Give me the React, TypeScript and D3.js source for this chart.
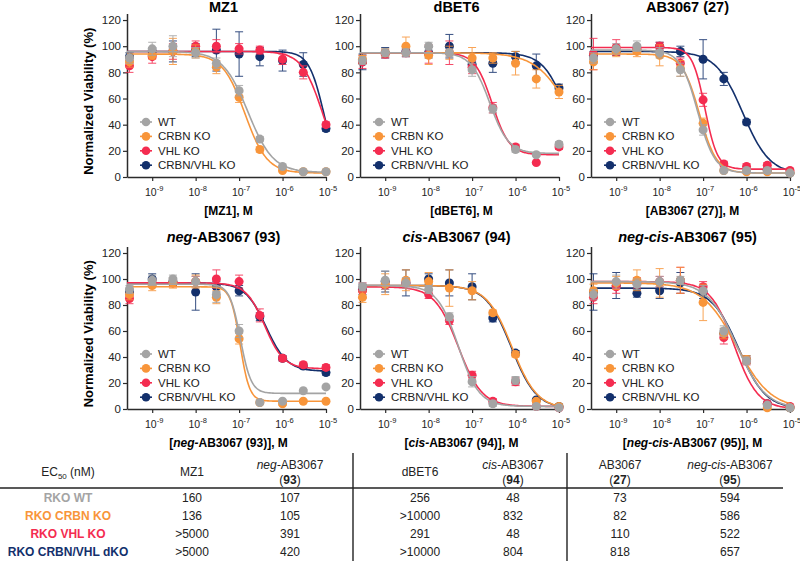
import { useEffect, useRef } from "react";
import * as d3 from "d3";

// concentrations (M) shared by all six dose-response panels
const concentrations = [3e-10, 1e-9, 3e-9, 1e-8, 3e-8, 1e-7, 3e-7, 1e-6, 3e-6, 1e-5];
const lineNames = ["WT", "CRBN KO", "VHL KO", "CRBN/VHL KO"];
const lineColors = ["#a4a4a4", "#f8953a", "#f42c50", "#13306c"];
const yTickValues = [0, 20, 40, 60, 80, 100, 120];
const xTickExponents = [-9, -8, -7, -6, -5];

// MZ1
const mz1WT = [91, 98, 100, 95, 87, 66, 29, 8, 4, 4];
const mz1CRBN = [88, 93, 96, 96, 84, 61, 21, 5, 4, 4];
const mz1VHL = [85, 92, 96, 100, 100, 98, 97, 90, 80, 40];
const mz1DKO = [92, 96, 96, 97, 97, 94, 92, 89, 86, 37];
const mz1WTErr = [4, 5, 8, 4, 4, 4, 2, 1, 1, 1];
const mz1CRBNErr = [4, 3, 10, 5, 5, 4, 2, 1, 1, 1];
const mz1VHLErr = [5, 5, 6, 4, 5, 4, 3, 4, 5, 2];
const mz1DKOErr = [3, 3, 8, 5, 16, 17, 7, 8, 9, 2];
// fit parameters: [top, bottom, EC50, hill]
const mz1Fits = [[96, 3.5, 1.6e-7, 1.5], [94, 3, 1.36e-7, 1.7], [96, 0, 8.5e-6, 1.8], [96, 0, 9e-6, 2.5]];

// dBET6
const dbetWT = [89, 95, 95, 100, 95, 82, 52, 21, 17, 25];
const dbetCRBN = [90, 95, 100, 93, 95, 91, 91, 87, 75, 65];
const dbetVHL = [88, 94, 95, 94, 95, 84, 53, 23, 11, 23];
const dbetDKO = [88, 95, 96, 95, 100, 86, 87, 92, 85, 68];
const dbetWTErr = [3, 3, 3, 3, 3, 5, 3, 2, 1, 2];
const dbetCRBNErr = [3, 3, 7, 7, 5, 8, 4, 9, 7, 5];
const dbetVHLErr = [5, 3, 3, 7, 9, 5, 4, 2, 1, 2];
const dbetDKOErr = [6, 4, 4, 4, 9, 4, 7, 4, 9, 3];
const dbetFits = [[95, 18, 2.56e-7, 2], [95, 0, 2e-5, 1.1], [95, 17, 2.9e-7, 2.2], [95, 0, 1.6e-5, 1.6]];

// AB3067 (27)
const abWT = [91, 98, 100, 95, 82, 36, 5, 5, 5, 3];
const abCRBN = [88, 96, 96, 93, 83, 41, 5, 4, 4, 3];
const abVHL = [94, 99, 98, 100, 87, 59, 10, 8, 9, 5];
const abDKO = [93, 96, 97, 100, 96, 90, 75, 42, 5, 3];
const abWTErr = [4, 4, 4, 4, 5, 4, 1, 1, 1, 1];
const abCRBNErr = [6, 4, 4, 8, 6, 4, 1, 1, 1, 1];
const abVHLErr = [12, 6, 3, 3, 4, 5, 2, 2, 2, 1];
const abDKOErr = [3, 3, 3, 3, 4, 15, 5, 2, 2, 1];
const abFits = [[97, 3, 7.5e-8, 2.2], [94, 3, 8.2e-8, 2.2], [99, 6, 1.1e-7, 3], [96, 2, 8.2e-7, 1.4]];

// neg-AB3067 (93)
const negWT = [92, 99, 100, 98, 88, 60, 5, 6, 14, 17];
const negCRBN = [88, 95, 97, 98, 86, 54, 5, 4, 6, 6];
const negVHL = [85, 97, 97, 98, 100, 98, 72, 39, 34, 32];
const negDKO = [90, 100, 98, 90, 94, 91, 71, 39, 33, 28];
const negWTErr = [3, 4, 3, 4, 6, 5, 1, 1, 1, 1];
const negCRBNErr = [4, 4, 4, 5, 5, 4, 1, 1, 1, 1];
const negVHLErr = [4, 3, 3, 4, 7, 5, 5, 2, 2, 2];
const negDKOErr = [3, 4, 3, 14, 4, 4, 3, 2, 2, 2];
const negFits = [[96, 12, 1.07e-7, 3.5], [94, 6, 1.05e-7, 4], [97, 31, 3.9e-7, 2], [97, 29, 4.2e-7, 1.8]];

// cis-AB3067 (94)
const cisWT = [94, 99, 97, 92, 71, 21, 4, 22, 2, 1];
const cisCRBN = [86, 96, 99, 98, 93, 91, 74, 42, 6, 2];
const cisVHL = [91, 95, 97, 88, 68, 26, 6, 21, 2, 1];
const cisDKO = [92, 98, 97, 100, 97, 94, 70, 43, 7, 2];
const cisWTErr = [3, 7, 4, 3, 3, 4, 2, 3, 1, 1];
const cisCRBNErr = [4, 8, 8, 7, 14, 7, 2, 2, 1, 1];
const cisVHLErr = [6, 3, 3, 3, 3, 3, 2, 3, 1, 1];
const cisDKOErr = [4, 8, 10, 4, 10, 10, 3, 2, 1, 1];
const cisFits = [[95, 2, 4.8e-8, 1.8], [95, 0, 8.3e-7, 1.5], [94, 2, 4.8e-8, 1.6], [95, 0, 8e-7, 1.5]];

// neg-cis-AB3067 (95)
const negcisWT = [88, 98, 96, 98, 99, 91, 60, 37, 3, 1];
const negcisCRBN = [91, 97, 99, 97, 99, 82, 58, 38, 1, 1];
const negcisVHL = [86, 94, 97, 98, 99, 94, 55, 37, 4, 2];
const negcisDKO = [90, 95, 89, 91, 97, 90, 58, 38, 4, 1];
const negcisWTErr = [4, 5, 4, 4, 3, 4, 4, 3, 1, 1];
const negcisCRBNErr = [5, 5, 8, 11, 10, 14, 4, 3, 1, 1];
const negcisVHLErr = [5, 5, 4, 4, 10, 4, 5, 3, 1, 1];
const negcisDKOErr = [14, 10, 3, 6, 8, 5, 4, 3, 1, 1];
const negcisFits = [[98, 0, 5.9e-7, 1.3], [97, 0, 5.9e-7, 1.1], [98, 0, 5.2e-7, 1.6], [93, 0, 6.6e-7, 1.4]];

// EC50 table
const rowLabels = ["RKO WT", "RKO CRBN KO", "RKO VHL KO", "RKO CRBN/VHL dKO"];
const ec50MZ1 = ["160", "136", ">5000", ">5000"];
const ec50Neg = ["107", "105", "391", "420"];
const ec50DBET = ["256", ">10000", "291", ">10000"];
const ec50Cis = ["48", "832", "48", "804"];
const ec50AB = ["73", "82", "110", "818"];
const ec50NegCis = ["594", "586", "522", "657"];

const panels = [
  { row: 0, col: 0, prefix: "", name: "MZ1", values: [mz1WT, mz1CRBN, mz1VHL, mz1DKO], errors: [mz1WTErr, mz1CRBNErr, mz1VHLErr, mz1DKOErr], fits: mz1Fits },
  { row: 0, col: 1, prefix: "", name: "dBET6", values: [dbetWT, dbetCRBN, dbetVHL, dbetDKO], errors: [dbetWTErr, dbetCRBNErr, dbetVHLErr, dbetDKOErr], fits: dbetFits },
  { row: 0, col: 2, prefix: "", name: "AB3067 (27)", values: [abWT, abCRBN, abVHL, abDKO], errors: [abWTErr, abCRBNErr, abVHLErr, abDKOErr], fits: abFits },
  { row: 1, col: 0, prefix: "neg-", name: "AB3067 (93)", values: [negWT, negCRBN, negVHL, negDKO], errors: [negWTErr, negCRBNErr, negVHLErr, negDKOErr], fits: negFits },
  { row: 1, col: 1, prefix: "cis-", name: "AB3067 (94)", values: [cisWT, cisCRBN, cisVHL, cisDKO], errors: [cisWTErr, cisCRBNErr, cisVHLErr, cisDKOErr], fits: cisFits },
  { row: 1, col: 2, prefix: "neg-cis-", name: "AB3067 (95)", values: [negcisWT, negcisCRBN, negcisVHL, negcisDKO], errors: [negcisWTErr, negcisCRBNErr, negcisVHLErr, negcisDKOErr], fits: negcisFits },
];

const tableColumns = [
  { x: 192, prefix: "", name: "MZ1", num: "", values: ec50MZ1 },
  { x: 290, prefix: "neg-", name: "AB3067", num: "93", values: ec50Neg },
  { x: 420, prefix: "", name: "dBET6", num: "", values: ec50DBET },
  { x: 513, prefix: "cis-", name: "AB3067", num: "94", values: ec50Cis },
  { x: 620, prefix: "", name: "AB3067", num: "27", values: ec50AB },
  { x: 730, prefix: "neg-cis-", name: "AB3067", num: "95", values: ec50NegCis },
];

const colX = [127, 360, 591];
const plotW = 199;
const rowBase = [177, 409];
const rowTop = [13.5, 246.5];
const titleY = [12, 242];
const font = "'Liberation Sans', Arial, sans-serif";
const axisColor = "#2b2b2b";

const App = () => {
  const ref = useRef<SVGSVGElement>(null);

  useEffect(() => {
    const svg = d3.select(ref.current);
    svg.selectAll("*").remove();

    const xMin = Math.pow(10, -9.58);

    panels.forEach((p) => {
      const x0 = colX[p.col];
      const yb = rowBase[p.row];
      const x = d3.scaleLog().domain([xMin, 1e-5]).range([x0, x0 + plotW]);
      const y = d3.scaleLinear().domain([0, 125]).range([yb, rowTop[p.row]]);
      const g = svg.append("g");

      // title
      const title = g
        .append("text")
        .attr("x", x0 + plotW / 2 - 3)
        .attr("y", titleY[p.row])
        .attr("text-anchor", "middle")
        .style("font-size", "14.5px")
        .style("font-weight", "bold");
      if (p.prefix) title.append("tspan").style("font-style", "italic").text(p.prefix);
      title.append("tspan").text(p.name);

      // y axis
      const yAxis = g
        .append("g")
        .attr("transform", `translate(${x0},0)`)
        .call(d3.axisLeft(y).tickValues(yTickValues).tickSize(4).tickSizeOuter(0).tickPadding(2));
      yAxis.select(".domain").attr("stroke", axisColor).attr("stroke-width", 1.5);
      yAxis.selectAll(".tick line").attr("stroke", axisColor).attr("stroke-width", 1.2);
      yAxis
        .selectAll(".tick text")
        .attr("fill", "#222")
        .style("font-family", font)
        .style("font-size", "11.5px");

      // x axis
      const xAxis = g
        .append("g")
        .attr("transform", `translate(0,${yb})`)
        .call(
          d3
            .axisBottom(x)
            .tickValues(xTickExponents.map((e) => Math.pow(10, e)))
            .tickSize(4)
            .tickSizeOuter(0)
            .tickFormat(() => "")
        );
      xAxis.select(".domain").attr("stroke", axisColor).attr("stroke-width", 1.5);
      xAxis.selectAll(".tick line").attr("stroke", axisColor).attr("stroke-width", 1.2);

      xTickExponents.forEach((e) => {
        const t = g
          .append("text")
          .attr("x", x(Math.pow(10, e)) + 2)
          .attr("y", yb + 18.5)
          .attr("text-anchor", "middle")
          .attr("fill", "#222")
          .style("font-size", "10.5px");
        t.append("tspan").text("10");
        t.append("tspan").attr("dy", -4.5).style("font-size", "7.5px").text(String(e));
      });

      // x axis label
      const xl = g
        .append("text")
        .attr("x", x0 + plotW / 2 + 2)
        .attr("y", yb + 38)
        .attr("text-anchor", "middle")
        .style("font-size", "12px")
        .style("font-weight", "bold");
      xl.append("tspan").text("[");
      if (p.prefix) xl.append("tspan").style("font-style", "italic").text(p.prefix);
      xl.append("tspan").text(p.name + "], M");

      // y axis label on left panels
      if (p.col === 0) {
        g.append("text")
          .attr("transform", `translate(93,${(yb + rowTop[p.row]) / 2 + 6}) rotate(-90)`)
          .attr("text-anchor", "middle")
          .style("font-size", "13px")
          .style("font-weight", "bold")
          .text("Normalized Viability (%)");
      }

      // fitted curves, error bars, points (WT last so it sits on top)
      const curveX = d3.range(121).map((i) => Math.pow(10, -9.58 + (4.58 * i) / 120));
      const line = d3
        .line<number>()
        .x((c) => x(c))
        .curve(d3.curveMonotoneX);

      [3, 2, 1, 0].forEach((s) => {
        const [top, bottom, ec50, hill] = p.fits[s];
        const color = lineColors[s];
        g.append("path")
          .attr("d", line.y((c) => y(bottom + (top - bottom) / (1 + Math.pow(c / ec50, hill))))(curveX))
          .attr("fill", "none")
          .attr("stroke", color)
          .attr("stroke-width", 1.6);

        const vals = p.values[s];
        const errs = p.errors[s];
        const eb = g.append("g").attr("stroke", color).attr("stroke-width", 1).attr("opacity", 0.85);
        concentrations.forEach((c, j) => {
          const cx = x(c);
          const y1 = y(vals[j] + errs[j]);
          const y2 = y(Math.max(0, vals[j] - errs[j]));
          eb.append("line").attr("x1", cx).attr("x2", cx).attr("y1", y1).attr("y2", y2);
          eb.append("line").attr("x1", cx - 4).attr("x2", cx + 4).attr("y1", y1).attr("y2", y1);
          eb.append("line").attr("x1", cx - 4).attr("x2", cx + 4).attr("y1", y2).attr("y2", y2);
        });

        g.selectAll(null)
          .data(vals)
          .enter()
          .append("circle")
          .attr("cx", (_, j) => x(concentrations[j]))
          .attr("cy", (v) => y(v))
          .attr("r", 4.5)
          .attr("fill", color);
      });

      // legend
      lineNames.forEach((n, i) => {
        const ly = yb - 55 + i * 14.4;
        g.append("line")
          .attr("x1", x0 + 13)
          .attr("x2", x0 + 25)
          .attr("y1", ly)
          .attr("y2", ly)
          .attr("stroke", lineColors[i])
          .attr("stroke-width", 1.6);
        g.append("circle").attr("cx", x0 + 19).attr("cy", ly).attr("r", 4.3).attr("fill", lineColors[i]);
        g.append("text")
          .attr("x", x0 + 31)
          .attr("y", ly + 4)
          .attr("fill", "#222")
          .style("font-size", "11.5px")
          .text(n);
      });
    });

    // EC50 table
    const tg = svg.append("g").style("font-size", "12px").attr("fill", "#222");
    const h = tg.append("text").attr("x", 68).attr("y", 476).attr("text-anchor", "middle");
    h.append("tspan").text("EC");
    h.append("tspan").attr("dy", 3).style("font-size", "8px").text("50");
    h.append("tspan").attr("dy", -3).text(" (nM)");

    tableColumns.forEach((col) => {
      if (!col.num) {
        tg.append("text").attr("x", col.x).attr("y", 476).attr("text-anchor", "middle").text(col.name);
      } else {
        const l1 = tg.append("text").attr("x", col.x).attr("y", 469).attr("text-anchor", "middle");
        if (col.prefix) l1.append("tspan").style("font-style", "italic").text(col.prefix);
        l1.append("tspan").text(col.name);
        const l2 = tg.append("text").attr("x", col.x).attr("y", 484).attr("text-anchor", "middle");
        l2.append("tspan").text("(");
        l2.append("tspan").style("font-weight", "bold").text(col.num);
        l2.append("tspan").text(")");
      }
      col.values.forEach((v, r) => {
        tg.append("text")
          .attr("x", col.x)
          .attr("y", 501.5 + r * 18.3)
          .attr("text-anchor", "middle")
          .text(v);
      });
    });

    rowLabels.forEach((lab, r) => {
      tg.append("text")
        .attr("x", 68)
        .attr("y", 501.5 + r * 18.3)
        .attr("text-anchor", "middle")
        .attr("fill", lineColors[r])
        .style("font-weight", "bold")
        .text(lab);
    });

    tg.append("line").attr("x1", 0).attr("x2", 783).attr("y1", 488).attr("y2", 488).attr("stroke", "#222").attr("stroke-width", 1.6);
    [353, 567].forEach((vx) => {
      tg.append("line").attr("x1", vx).attr("x2", vx).attr("y1", 453).attr("y2", 561).attr("stroke", "#222").attr("stroke-width", 1.4);
    });
  }, []);

  return (
    <svg
      ref={ref}
      width={800}
      height={561}
      style={{ position: "absolute", left: 0, top: 0, background: "#fff", fontFamily: font }}
    />
  );
};

export default App;
